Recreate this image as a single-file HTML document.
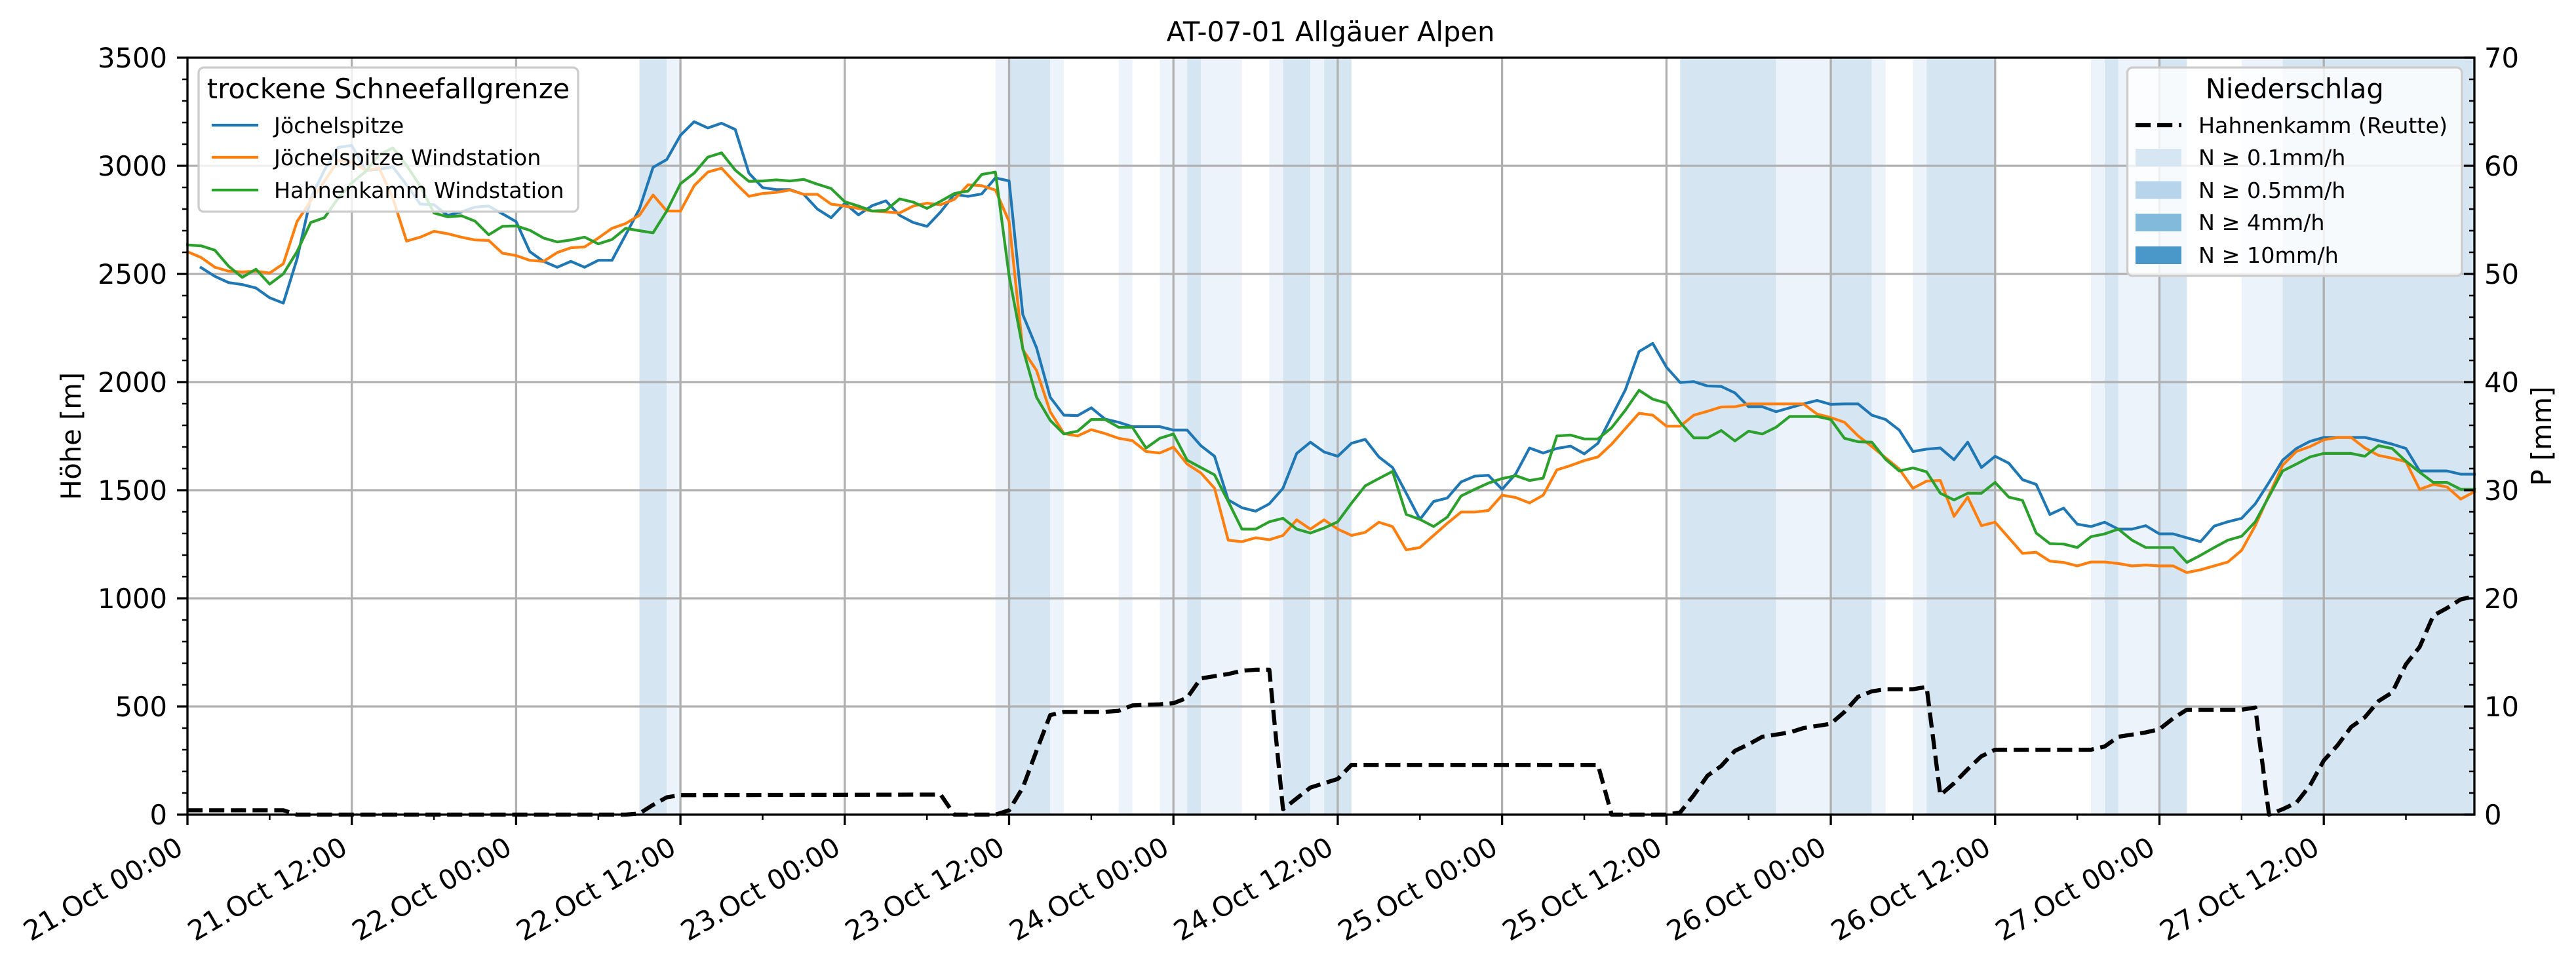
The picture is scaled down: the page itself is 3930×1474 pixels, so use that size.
<!DOCTYPE html>
<html>
<head>
<meta charset="utf-8">
<style>
html,body{margin:0;padding:0;background:#fff;}
svg{display:block;}
text{font-family:"DejaVu Sans","Liberation Sans",sans-serif;fill:#000;}
</style>
</head>
<body>
<svg width="3930" height="1474" viewBox="0 0 3930 1474" xmlns="http://www.w3.org/2000/svg">
<rect x="0" y="0" width="3930" height="1474" fill="#fff"/>

<!-- precipitation bands -->
<g transform="translate(286,88) scale(20.8922,1)">
  <g fill="#d6e5f2">
    <rect x="33" y="0" width="2" height="1155"/>
    <rect x="60" y="0" width="3" height="1155"/>
    <rect x="73" y="0" width="1" height="1155"/>
    <rect x="80" y="0" width="2" height="1155"/>
    <rect x="83" y="0" width="2" height="1155"/>
    <rect x="109" y="0" width="7" height="1155"/>
    <rect x="120" y="0" width="3" height="1155"/>
    <rect x="127" y="0" width="5" height="1155"/>
    <rect x="140" y="0" width="1" height="1155"/>
    <rect x="144" y="0" width="2" height="1155"/>
    <rect x="153" y="0" width="14" height="1155"/>
  </g>
  <g fill="#ecf3fa">
    <rect x="35" y="0" width="1" height="1155"/>
    <rect x="59" y="0" width="1" height="1155"/>
    <rect x="63" y="0" width="1" height="1155"/>
    <rect x="68" y="0" width="1" height="1155"/>
    <rect x="71" y="0" width="2" height="1155"/>
    <rect x="74" y="0" width="3" height="1155"/>
    <rect x="79" y="0" width="1" height="1155"/>
    <rect x="82" y="0" width="1" height="1155"/>
    <rect x="116" y="0" width="4" height="1155"/>
    <rect x="123" y="0" width="1" height="1155"/>
    <rect x="126" y="0" width="1" height="1155"/>
    <rect x="139" y="0" width="1" height="1155"/>
    <rect x="141" y="0" width="3" height="1155"/>
    <rect x="150" y="0" width="3" height="1155"/>
  </g>
</g>

<!-- grid -->
<g stroke="#b0b0b0" stroke-width="3.3" fill="none">
  <path d="M536.7,88V1243 M787.4,88V1243 M1038.1,88V1243 M1288.8,88V1243 M1539.5,88V1243 M1790.2,88V1243 M2040.9,88V1243 M2291.6,88V1243 M2542.4,88V1243 M2793.1,88V1243 M3043.8,88V1243 M3294.5,88V1243 M3545.2,88V1243"/>
  <path d="M286,1078H3775 M286,913H3775 M286,748H3775 M286,583H3775 M286,418H3775 M286,253H3775"/>
</g>

<!-- snow line series -->
<g transform="matrix(20.8922 0 0 -0.33 286 1243)" fill="none" stroke-width="4.2" stroke-linejoin="round" stroke-linecap="square">
<polyline vector-effect="non-scaling-stroke" stroke="#1f77b4" points="1,2529 2,2489 3,2460 4,2451 5,2435 6,2390 7,2365 8,2569 9,2850 10,2980 11,3085 12,3094 13,2978 14,2984 15,2995 16,2912 17,2823 18,2820 19,2771 20,2787 21,2809 22,2814 23,2778 24,2742 25,2603 26,2558 27,2531 28,2558 29,2531 30,2563 31,2563 32,2681 33,2800 34,2993 35,3029 36,3141 37,3204 38,3175 39,3197 40,3168 41,2966 42,2899 43,2890 44,2890 45,2868 46,2800 47,2760 48,2827 49,2773 50,2816 51,2838 52,2771 53,2738 54,2720 55,2787 56,2868 57,2859 58,2870 59,2944 60,2930 61,2312 62,2159 63,1930 64,1847 65,1845 66,1881 67,1829 68,1814 69,1794 70,1794 71,1794 72,1778 73,1778 74,1706 75,1657 76,1455 77,1419 78,1403 79,1437 80,1509 81,1670 82,1722 83,1677 84,1657 85,1717 86,1735 87,1654 88,1605 89,1486 90,1365 91,1448 92,1464 93,1538 94,1565 95,1569 96,1504 97,1576 98,1695 99,1672 100,1693 101,1704 102,1668 103,1717 104,1841 105,1964 106,2141 107,2179 108,2069 109,1998 110,2002 111,1982 112,1980 113,1950 114,1886 115,1886 116,1863 117,1881 118,1899 119,1915 120,1897 121,1899 122,1899 123,1847 124,1827 125,1778 126,1679 127,1690 128,1695 129,1641 130,1722 131,1605 132,1657 133,1625 134,1549 135,1527 136,1388 137,1417 138,1343 139,1332 140,1352 141,1320 142,1320 143,1336 144,1298 145,1298 146,1280 147,1262 148,1334 149,1354 150,1370 151,1437 152,1536 153,1639 154,1693 155,1726 156,1744 157,1744 158,1744 159,1744 160,1729 161,1713 162,1693 163,1589 164,1589 165,1589 166,1574 167,1574"/>
<polyline vector-effect="non-scaling-stroke" stroke="#ff7f0e" points="0,2603 1,2576 2,2531 3,2513 4,2509 5,2513 6,2504 7,2547 8,2742 9,2838 10,2928 11,3025 12,3018 13,2980 14,2989 15,2850 16,2652 17,2670 18,2697 19,2686 20,2670 21,2657 22,2655 23,2596 24,2585 25,2563 26,2558 27,2599 28,2621 29,2625 30,2666 31,2711 32,2733 33,2771 34,2865 35,2791 36,2791 37,2908 38,2971 39,2989 40,2921 41,2859 42,2872 43,2877 44,2888 45,2868 46,2868 47,2823 48,2814 49,2803 50,2791 51,2787 52,2782 53,2814 54,2827 55,2820 56,2845 57,2912 58,2908 59,2888 60,2742 61,2150 62,2054 63,1863 64,1762 65,1751 66,1780 67,1762 68,1740 69,1729 70,1679 71,1672 72,1699 73,1621 74,1580 75,1509 76,1269 77,1262 78,1280 79,1271 80,1291 81,1363 82,1320 83,1363 84,1320 85,1291 86,1305 87,1352 88,1332 89,1224 90,1235 91,1291 92,1347 93,1399 94,1399 95,1406 96,1477 97,1466 98,1441 99,1477 100,1594 101,1614 102,1637 103,1654 104,1713 105,1785 106,1856 107,1847 108,1796 109,1796 110,1847 111,1865 112,1885 113,1886 114,1899 115,1899 116,1899 117,1899 118,1899 119,1852 120,1836 121,1814 122,1751 123,1702 124,1650 125,1598 126,1509 127,1542 128,1545 129,1379 130,1468 131,1336 132,1352 133,1280 134,1208 135,1213 136,1172 137,1166 138,1150 139,1168 140,1168 141,1161 142,1150 143,1154 144,1150 145,1150 146,1119 147,1132 148,1150 149,1168 150,1222 151,1336 152,1477 153,1616 154,1679 155,1702 156,1733 157,1744 158,1744 159,1695 160,1661 161,1648 162,1632 163,1504 164,1527 165,1515 166,1459 167,1493"/>
<polyline vector-effect="non-scaling-stroke" stroke="#2ca02c" points="0,2634 1,2630 2,2610 3,2536 4,2484 5,2522 6,2453 7,2500 8,2603 9,2738 10,2760 11,2850 12,2921 13,2973 14,3051 15,3083 16,3002 17,2906 18,2782 19,2764 20,2769 21,2744 22,2681 23,2720 24,2722 25,2702 26,2666 27,2648 28,2657 29,2670 30,2639 31,2659 32,2711 33,2700 34,2690 35,2791 36,2917 37,2966 38,3040 39,3060 40,2980 41,2928 42,2930 43,2935 44,2930 45,2937 46,2915 47,2895 48,2834 49,2814 50,2791 51,2794 52,2847 53,2832 54,2803 55,2836 56,2872 57,2883 58,2960 59,2971 60,2491 61,2155 62,1930 63,1823 64,1760 65,1773 66,1827 67,1827 68,1791 69,1791 70,1695 71,1740 72,1760 73,1639 74,1605 75,1571 76,1448 77,1320 78,1320 79,1354 80,1370 81,1320 82,1302 83,1325 84,1354 85,1440 86,1520 87,1554 88,1587 89,1388 90,1365 91,1332 92,1376 93,1473 94,1504 95,1533 96,1554 97,1567 98,1545 99,1556 100,1751 101,1755 102,1737 103,1737 104,1789 105,1870 106,1962 107,1921 108,1903 109,1814 110,1742 111,1742 112,1776 113,1728 114,1773 115,1760 116,1791 117,1841 118,1841 119,1841 120,1827 121,1740 122,1724 123,1722 124,1643 125,1589 126,1603 127,1585 128,1486 129,1455 130,1486 131,1486 132,1536 133,1468 134,1453 135,1302 136,1253 137,1251 138,1235 139,1285 140,1298 141,1320 142,1269 143,1235 144,1235 145,1235 146,1166 147,1199 148,1235 149,1269 150,1287 151,1354 152,1471 153,1589 154,1621 155,1654 156,1670 157,1670 158,1670 159,1657 160,1706 161,1693 162,1634 163,1583 164,1536 165,1536 166,1504 167,1504"/>
</g>

<!-- precipitation dashed -->
<g transform="matrix(20.8922 0 0 -16.5 286 1243)" fill="none">
<polyline vector-effect="non-scaling-stroke" stroke="#000" stroke-width="6.25" stroke-dasharray="23.1 10" stroke-linejoin="round" points="0,0.4 7,0.4 8,0 32,0 33,0.1 34,0.9 35,1.6 36,1.8 55,1.85 56,0 59,0 60,0.4 61,2.5 62,5.9 63,9.2 64,9.5 67,9.5 68,9.6 69,10.1 70,10.15 71,10.2 72,10.3 73,10.8 74,12.6 75,12.8 76,13.0 77,13.3 78,13.4 79,13.4 80,0.5 81,1.5 82,2.5 83,2.9 84,3.3 85,4.6 103,4.6 104,0 108,0 109,0.2 110,1.8 111,3.6 112,4.5 113,5.9 114,6.5 115,7.2 116,7.4 117,7.6 118,8.0 119,8.2 120,8.4 121,9.5 122,10.9 123,11.4 124,11.6 126,11.6 127,11.8 128,1.8 129,2.9 130,4.2 131,5.4 132,6.0 139,6.0 140,6.3 141,7.2 142,7.4 143,7.6 144,7.9 145,8.9 146,9.7 150,9.7 151,9.9 152,0 153,0.5 154,1.1 155,2.7 156,5.0 157,6.4 158,8.1 159,9.0 160,10.5 161,11.3 162,13.9 163,15.5 164,18.4 165,19.1 166,19.9 167,20.2"/>
</g>

<!-- left legend -->
<rect x="303" y="103" width="579" height="220" rx="8" ry="8" fill="#fff" fill-opacity="0.8" stroke="#cccccc" stroke-width="3.3"/>
<text x="592.5" y="150" font-size="41.67" text-anchor="middle">trockene Schneefallgrenze</text>
<g stroke-width="4.2" stroke-linecap="square">
  <line x1="325" y1="191" x2="392" y2="191" stroke="#1f77b4"/>
  <line x1="325" y1="240" x2="392" y2="240" stroke="#ff7f0e"/>
  <line x1="325" y1="290" x2="392" y2="290" stroke="#2ca02c"/>
</g>
<g font-size="33.33">
  <text x="418" y="203">Jöchelspitze</text>
  <text x="418" y="252">Jöchelspitze Windstation</text>
  <text x="418" y="302">Hahnenkamm Windstation</text>
</g>

<!-- right legend -->
<rect x="3245.5" y="103" width="510.5" height="318" rx="8" ry="8" fill="#fff" fill-opacity="0.8" stroke="#cccccc" stroke-width="3.3"/>
<text x="3500.8" y="150" font-size="41.67" text-anchor="middle">Niederschlag</text>
<line x1="3258" y1="191" x2="3328" y2="191" stroke="#000" stroke-width="6.25" stroke-dasharray="23.1 10"/>
<rect x="3258" y="227" width="70" height="27" fill="#d6e6f3"/>
<rect x="3258" y="276.5" width="70" height="27" fill="#b7d4ea"/>
<rect x="3258" y="326" width="70" height="27" fill="#82badb"/>
<rect x="3258" y="376" width="70" height="27" fill="#4a98c9"/>
<g font-size="33.33">
  <text x="3354" y="203">Hahnenkamm (Reutte)</text>
  <text x="3354" y="252">N ≥ 0.1mm/h</text>
  <text x="3354" y="302">N ≥ 0.5mm/h</text>
  <text x="3354" y="351">N ≥ 4mm/h</text>
  <text x="3354" y="401">N ≥ 10mm/h</text>
</g>

<!-- spines -->
<rect x="286" y="88" width="3489" height="1155" fill="none" stroke="#000" stroke-width="3.3"/>

<!-- ticks -->
<g stroke="#000" fill="none">
  <path stroke-width="3.3" d="M270,1243H286 M270,1078H286 M270,913H286 M270,748H286 M270,583H286 M270,418H286 M270,253H286 M270,88H286
  M3759,1243H3775 M3759,1078H3775 M3759,913H3775 M3759,748H3775 M3759,583H3775 M3759,418H3775 M3759,253H3775 M3759,88H3775
  M286,1243V1259 M536.7,1243V1259 M787.4,1243V1259 M1038.1,1243V1259 M1288.8,1243V1259 M1539.5,1243V1259 M1790.2,1243V1259 M2040.9,1243V1259 M2291.6,1243V1259 M2542.4,1243V1259 M2793.1,1243V1259 M3043.8,1243V1259 M3294.5,1243V1259 M3545.2,1243V1259"/>
  <path stroke-width="2.5" d="M278,1210H286 M278,1177H286 M278,1144H286 M278,1111H286 M278,1045H286 M278,1012H286 M278,979H286 M278,946H286 M278,880H286 M278,847H286 M278,814H286 M278,781H286 M278,715H286 M278,682H286 M278,649H286 M278,616H286 M278,550H286 M278,517H286 M278,484H286 M278,451H286 M278,385H286 M278,352H286 M278,319H286 M278,286H286 M278,220H286 M278,187H286 M278,154H286 M278,121H286
  M3767,1210H3775 M3767,1177H3775 M3767,1144H3775 M3767,1111H3775 M3767,1045H3775 M3767,1012H3775 M3767,979H3775 M3767,946H3775 M3767,880H3775 M3767,847H3775 M3767,814H3775 M3767,781H3775 M3767,715H3775 M3767,682H3775 M3767,649H3775 M3767,616H3775 M3767,550H3775 M3767,517H3775 M3767,484H3775 M3767,451H3775 M3767,385H3775 M3767,352H3775 M3767,319H3775 M3767,286H3775 M3767,220H3775 M3767,187H3775 M3767,154H3775 M3767,121H3775
  M411.4,1243V1251 M662.1,1243V1251 M912.8,1243V1251 M1163.5,1243V1251 M1414.2,1243V1251 M1664.9,1243V1251 M1915.6,1243V1251 M2166.3,1243V1251 M2417,1243V1251 M2667.7,1243V1251 M2918.4,1243V1251 M3169.1,1243V1251 M3419.8,1243V1251 M3670.5,1243V1251"/>
</g>

<!-- left tick labels -->
<g font-size="41.67" text-anchor="end">
  <text x="255" y="1258">0</text>
  <text x="255" y="1093">500</text>
  <text x="255" y="928">1000</text>
  <text x="255" y="763">1500</text>
  <text x="255" y="598">2000</text>
  <text x="255" y="433">2500</text>
  <text x="255" y="268">3000</text>
  <text x="255" y="103">3500</text>
</g>
<!-- right tick labels -->
<g font-size="41.67">
  <text x="3790" y="1258">0</text>
  <text x="3790" y="1093">10</text>
  <text x="3790" y="928">20</text>
  <text x="3790" y="763">30</text>
  <text x="3790" y="598">40</text>
  <text x="3790" y="433">50</text>
  <text x="3790" y="268">60</text>
  <text x="3790" y="103">70</text>
</g>

<!-- x tick labels -->
<g font-size="41.67" text-anchor="end">
  <text transform="translate(282,1301) rotate(-30)">21.Oct 00:00</text>
  <text transform="translate(532.7,1301) rotate(-30)">21.Oct 12:00</text>
  <text transform="translate(783.4,1301) rotate(-30)">22.Oct 00:00</text>
  <text transform="translate(1034.1,1301) rotate(-30)">22.Oct 12:00</text>
  <text transform="translate(1284.8,1301) rotate(-30)">23.Oct 00:00</text>
  <text transform="translate(1535.5,1301) rotate(-30)">23.Oct 12:00</text>
  <text transform="translate(1786.2,1301) rotate(-30)">24.Oct 00:00</text>
  <text transform="translate(2036.9,1301) rotate(-30)">24.Oct 12:00</text>
  <text transform="translate(2287.6,1301) rotate(-30)">25.Oct 00:00</text>
  <text transform="translate(2538.4,1301) rotate(-30)">25.Oct 12:00</text>
  <text transform="translate(2789.1,1301) rotate(-30)">26.Oct 00:00</text>
  <text transform="translate(3039.8,1301) rotate(-30)">26.Oct 12:00</text>
  <text transform="translate(3290.5,1301) rotate(-30)">27.Oct 00:00</text>
  <text transform="translate(3541.2,1301) rotate(-30)">27.Oct 12:00</text>
</g>

<!-- axis labels and title -->
<text transform="translate(123,665.5) rotate(-90)" font-size="41.67" text-anchor="middle">Höhe [m]</text>
<text transform="translate(3892,665.5) rotate(-90)" font-size="41.67" text-anchor="middle">P [mm]</text>
<text x="2030" y="63" font-size="41.67" text-anchor="middle">AT-07-01 Allgäuer Alpen</text>
</svg>
</body>
</html>
